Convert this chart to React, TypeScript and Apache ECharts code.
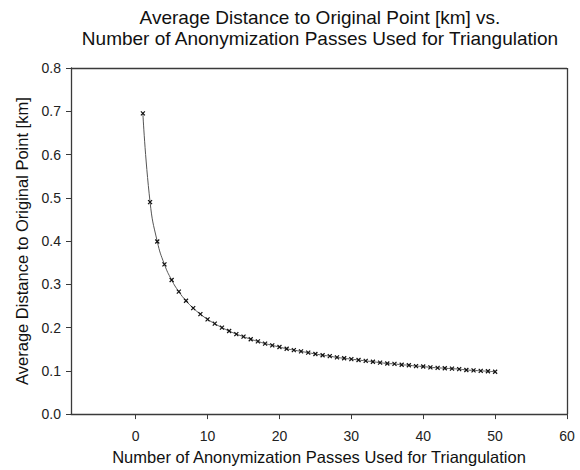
import React, { useEffect, useRef } from "react";
import * as echarts from "echarts";

const passes: number[] = [
  1, 2, 3, 4, 5, 6, 7, 8, 9, 10, 11, 12, 13, 14, 15, 16, 17, 18, 19, 20, 21, 22, 23, 24, 25,
  26, 27, 28, 29, 30, 31, 32, 33, 34, 35, 36, 37, 38, 39, 40, 41, 42, 43, 44, 45, 46, 47, 48, 49, 50,
];
const avgDistance: number[] = [
  0.695, 0.490, 0.399, 0.346, 0.310, 0.283, 0.262, 0.245, 0.231, 0.219,
  0.209, 0.200, 0.192, 0.185, 0.179, 0.173, 0.168, 0.163, 0.159, 0.155,
  0.151, 0.148, 0.145, 0.142, 0.139, 0.136, 0.134, 0.131, 0.129, 0.127,
  0.125, 0.123, 0.121, 0.119, 0.117, 0.116, 0.114, 0.113, 0.111, 0.110,
  0.108, 0.107, 0.106, 0.105, 0.104, 0.102, 0.101, 0.100, 0.099, 0.098,
];
const xTicks: number[] = [0, 10, 20, 30, 40, 50, 60];
const titleLines: string[] = [
  "Average Distance to Original Point [km] vs.",
  "Number of Anonymization Passes Used for Triangulation",
];
const xName = "Number of Anonymization Passes Used for Triangulation";
const yName = "Average Distance to Original Point [km]";

export default function App() {
  const ref = useRef<HTMLDivElement>(null);
  useEffect(() => {
    if (!ref.current) return;
    const chart = echarts.init(ref.current, null, { renderer: "svg" });
    const font = "Liberation Sans, Arial, sans-serif";
    const axisColor = "#3a3a3a";
    chart.setOption({
      animation: false,
      textStyle: { fontFamily: font },
      grid: { left: 71, right: 13, top: 68, bottom: 54, show: false },
      graphic: [
        {
          type: "text",
          x: 320,
          y: 7,
          style: {
            text: titleLines.join("\n"),
            font: "19px Liberation Sans, Arial, sans-serif",
            fill: "#111",
            textAlign: "center",
            lineHeight: 21,
          },
        },
      ],
      xAxis: {
        type: "value",
        min: -9,
        max: 60,
        name: xName,
        nameLocation: "middle",
        nameGap: 31,
        nameTextStyle: { fontSize: 16.5, color: "#111", fontFamily: font },
        axisLine: { show: true, onZero: false, lineStyle: { color: axisColor, width: 1.3 } },
        axisTick: { show: true, inside: false, length: 5, customValues: xTicks, lineStyle: { color: axisColor } },
        axisLabel: { customValues: xTicks, fontSize: 14, color: "#222", margin: 15, fontFamily: font },
        splitLine: { show: false },
      },
      yAxis: {
        type: "value",
        min: 0,
        max: 0.8,
        interval: 0.1,
        name: yName,
        nameLocation: "middle",
        nameGap: 39,
        nameTextStyle: { fontSize: 16.5, color: "#111", fontFamily: font },
        axisLine: { show: true, onZero: false, lineStyle: { color: axisColor, width: 1.3 } },
        axisTick: { show: true, inside: false, length: 5, lineStyle: { color: axisColor } },
        axisLabel: {
          fontSize: 14,
          color: "#222",
          margin: 10,
          fontFamily: font,
          formatter: (v: number) => v.toFixed(1),
        },
        splitLine: { show: false },
      },
      series: [
        {
          type: "line",
          data: passes.map((p, i) => [p, avgDistance[i]]),
          smooth: true,
          symbol: "path://M0,0L10,10M10,0L0,10",
          symbolSize: 4,
          showSymbol: true,
          lineStyle: { color: "#555", width: 1 },
          itemStyle: { color: "#111", borderColor: "#111", borderWidth: 1.2 },
          markLine: {
            silent: true,
            symbol: "none",
            label: { show: false },
            lineStyle: { color: axisColor, width: 1.3, type: "solid" },
            data: [
              [{ coord: [-9, 0.8] }, { coord: [60, 0.8] }],
              [{ coord: [60, 0] }, { coord: [60, 0.8] }],
            ],
          },
        },
      ],
    });
    return () => chart.dispose();
  }, []);
  return (
    <div
      ref={ref}
      style={{ position: "fixed", left: 0, top: 0, width: 580, height: 470, background: "#fff" }}
    />
  );
}
